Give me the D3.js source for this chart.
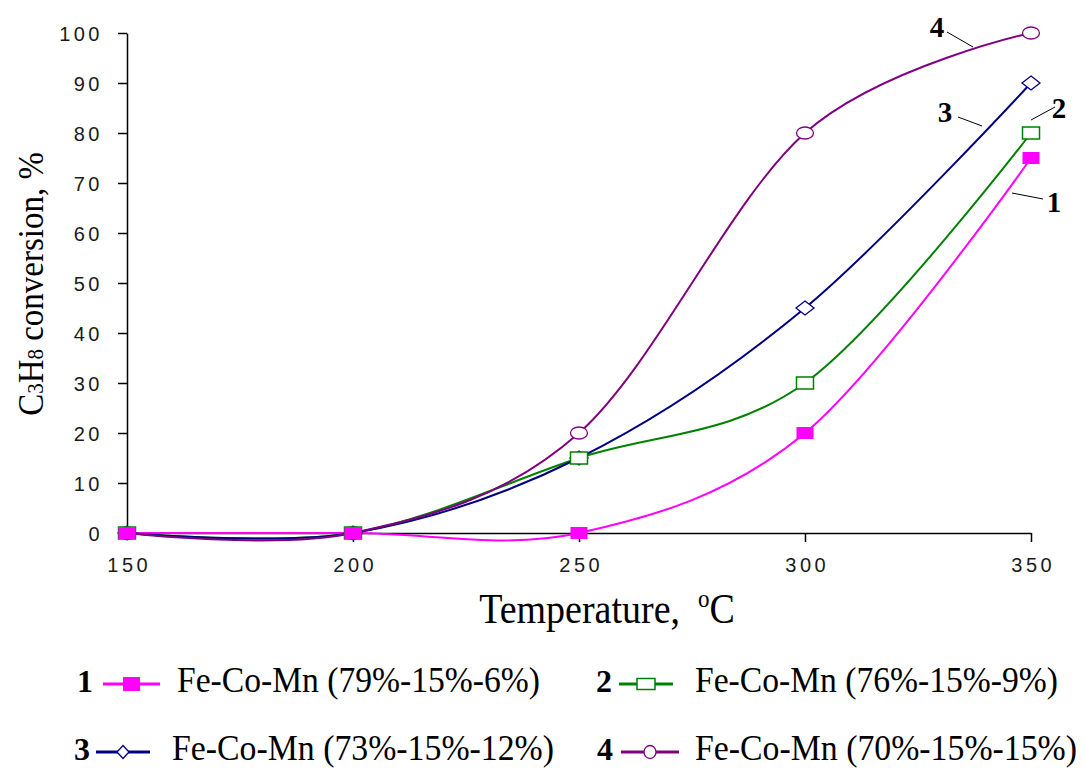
<!DOCTYPE html>
<html><head><meta charset="utf-8">
<script src="https://cdn.jsdelivr.net/npm/d3@7"></script>
<style>body{margin:0;background:#fff}</style>
</head><body>
<svg id="c" width="1085" height="770"></svg>
<script>
const temps = [150, 200, 250, 300, 350];
const s1 = [0, 0, 0, 20, 75];
const s2 = [0, 0, 15, 30, 80];
const s3 = [0, 0, 15, 45, 90];
const s4 = [0, 0, 20, 80, 100];
const seriesNames = ["Fe-Co-Mn (79%-15%-6%)", "Fe-Co-Mn (76%-15%-9%)", "Fe-Co-Mn (73%-15%-12%)", "Fe-Co-Mn (70%-15%-15%)"];
const seriesIds = ["1", "2", "3", "4"];
const yTicks = [0, 10, 20, 30, 40, 50, 60, 70, 80, 90, 100];
const xTicks = [150, 200, 250, 300, 350];

const colors = ["#ff00ff", "#008000", "#000080", "#800080"];
const markers = ["fsquare", "square", "diamond", "circle"];
const data = [s1, s2, s3, s4];
const SERIF = "Liberation Serif, Times New Roman, serif";

const svg = d3.select("#c");
const x = d3.scaleLinear().domain([150, 350]).range([127, 1031]);
const y = d3.scaleLinear().domain([0, 100]).range([533, 33]);

// axes
const yAx = svg.append("g").attr("transform", "translate(127,0)")
  .call(d3.axisLeft(y).tickValues(yTicks).tickSize(9).tickSizeOuter(0).tickPadding(15));
const xAx = svg.append("g").attr("transform", "translate(0,533)")
  .call(d3.axisBottom(x).tickValues(xTicks).tickSize(9).tickSizeOuter(0).tickPadding(14));
[yAx, xAx].forEach(a => {
  a.select(".domain").attr("stroke", "#000").attr("stroke-width", 1.5);
  a.selectAll(".tick line").attr("stroke", "#000").attr("stroke-width", 1.5);
  a.selectAll("text").attr("font-family", "Liberation Sans, Arial, sans-serif")
    .attr("font-size", 20).attr("fill", "#1a1a1a").attr("letter-spacing", 3.5);
});
yAx.selectAll(".tick text").attr("dy", "0.36em");
xAx.selectAll(".tick text").attr("dx", 1.75).attr("dy", "0.78em");
xAx.selectAll(".tick").filter(d => d === 150).select("line").remove();

function drawMarker(g, type, color, cx, cy, w, h) {
  const hw = w / 2, hh = h / 2;
  if (type === "fsquare") {
    g.append("rect").attr("x", cx - hw).attr("y", cy - hh).attr("width", w).attr("height", h).attr("fill", color);
  } else if (type === "square") {
    g.append("rect").attr("x", cx - hw).attr("y", cy - hh).attr("width", w).attr("height", h)
      .attr("fill", "#fff").attr("stroke", color).attr("stroke-width", 1.5);
  } else if (type === "diamond") {
    g.append("path").attr("d", `M${cx},${cy - hh}L${cx + hw},${cy}L${cx},${cy + hh}L${cx - hw},${cy}Z`)
      .attr("fill", "#fff").attr("stroke", color).attr("stroke-width", 1.3);
  } else {
    g.append("ellipse").attr("cx", cx).attr("cy", cy).attr("rx", hw).attr("ry", hh)
      .attr("fill", "#fff").attr("stroke", color).attr("stroke-width", 1.3);
  }
}
const plotSizes = [[17, 12], [17, 12], [18, 14], [17, 12]];
const legSizes = [[17, 14], [18, 11], [12, 13], [12, 13]];

const line = d3.line().x(d => x(d[0])).y(d => y(d[1])).curve(d3.curveCardinal.tension(0));
const plot = svg.append("g");
data.forEach((s, i) => {
  const pts = temps.map((t, k) => [t, s[k]]);
  plot.append("path").attr("d", line(pts)).attr("fill", "none")
    .attr("stroke", colors[i]).attr("stroke-width", 2);
});
data.slice().reverse().forEach((s, ri) => {
  const i = 3 - ri;
  temps.forEach((t, k) => drawMarker(plot, markers[i], colors[i], x(t), y(s[k]), plotSizes[i][0], plotSizes[i][1]));
});

// curve labels
const labs = [
  {t: "1", x: 1054, y: 212, l: [1012, 193, 1043, 199]},
  {t: "2", x: 1059, y: 118, l: [1031, 120, 1055, 107]},
  {t: "3", x: 945, y: 122, l: [958, 117, 982, 126]},
  {t: "4", x: 937, y: 37, l: [947, 32, 973, 47]}
];
labs.forEach(d => {
  svg.append("line").attr("x1", d.l[0]).attr("y1", d.l[1]).attr("x2", d.l[2]).attr("y2", d.l[3])
    .attr("stroke", "#000").attr("stroke-width", 1);
  svg.append("text").attr("x", d.x).attr("y", d.y).attr("text-anchor", "middle")
    .attr("font-family", SERIF).attr("font-weight", "bold")
    .attr("font-size", 29).text(d.t);
});

// axis titles
const yt = svg.append("text").attr("transform", "translate(43,284) rotate(-90) scale(1.0,1.08)").attr("text-anchor", "middle")
  .attr("font-family", SERIF).attr("font-size", 33).attr("fill", "#000");
yt.append("tspan").text("C");
yt.append("tspan").attr("font-size", 21).text("3");
yt.append("tspan").text("H");
yt.append("tspan").attr("font-size", 21).text("8");
yt.append("tspan").text(" conversion, %");

const xt = svg.append("text").attr("transform", "translate(607,623) scale(1,1.1)").attr("text-anchor", "middle")
  .attr("font-family", SERIF).attr("font-size", 38).attr("fill", "#000");
xt.append("tspan").text("Temperature,");
xt.append("tspan").attr("font-size", 23).attr("dx", 18).attr("dy", -15).text("o");
xt.append("tspan").attr("dy", 15).text("C");

// legend
const leg = [
  {num: 85, l0: 103, l1: 160, tx: 177, ty: 692, w: 363},
  {num: 604, l0: 619, l1: 673, tx: 695, ty: 692, w: 363},
  {num: 82, l0: 96, l1: 150, tx: 172, ty: 760, w: 382},
  {num: 605, l0: 621, l1: 679, tx: 695, ty: 760, w: 382}
];
leg.forEach((d, i) => {
  svg.append("text").attr("x", d.num).attr("y", d.ty).attr("text-anchor", "middle")
    .attr("font-family", SERIF).attr("font-weight", "bold")
    .attr("font-size", 32).text(seriesIds[i]);
  const ly = d.ty - 8;
  svg.append("line").attr("x1", d.l0).attr("x2", d.l1).attr("y1", ly).attr("y2", ly)
    .attr("stroke", colors[i]).attr("stroke-width", 3);
  drawMarker(svg, markers[i], colors[i], (d.l0 + d.l1) / 2, ly, legSizes[i][0], legSizes[i][1]);
  svg.append("text").attr("transform", `translate(${d.tx},${d.ty}) scale(1,1.1)`)
    .attr("font-family", SERIF).attr("font-size", 33)
    .attr("textLength", d.w).attr("lengthAdjust", "spacingAndGlyphs")
    .text(seriesNames[i]);
});
</script>
</body></html>
